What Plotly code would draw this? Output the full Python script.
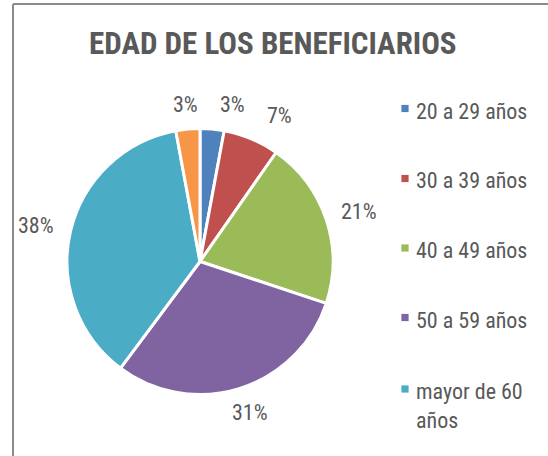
import math
import plotly.graph_objects as go

# ---- data ----
categories = ["20 a 29 años", "30 a 39 años", "40 a 49 años", "50 a 59 años", "mayor de 60 años", "otros"]
legend_labels = ["20 a 29 años", "30 a 39 años", "40 a 49 años", "50 a 59 años", "mayor de 60<br>años"]
values = [3, 7, 21, 31, 38, 3]
colors = ["#4F81BD", "#C0504D", "#9BBB59", "#8064A2", "#4BACC6", "#F79646"]
title_text = "EDAD DE LOS BENEFICIARIOS"

W, H = 548, 456
FONT = "Liberation Sans Narrow, Arial Narrow, Roboto Condensed, sans-serif"
GRAY = "#595959"


def px_x(x):
    return x / W


def px_y(y):
    return 1 - y / H


cx, cy, r = 200, 261.5, 133

fig = go.Figure(go.Pie(
    labels=categories,
    values=values,
    textinfo="none",
    sort=False,
    direction="clockwise",
    rotation=0,
    marker=dict(colors=colors, line=dict(color="white", width=3)),
    domain=dict(x=[px_x(cx - r), px_x(cx + r)], y=[px_y(cy + r), px_y(cy - r)]),
    showlegend=False,
    hoverinfo="label+value",
))

# ---- data labels placed outside the slice ends (positions derived from the values) ----
total = sum(values)
texts = [f"{v}%" for v in values]
gap, h = 16, 18
boxes = []
cum = 0
for v, t in zip(values, texts):
    mid = (cum + v / 2) / total * 2 * math.pi
    cum += v
    ux, uy = math.sin(mid), -math.cos(mid)
    w = 11 * (len(t) - 1) + 16
    bx = cx + (r + gap) * ux + w / 2 * ux
    by = cy + (r + gap) * uy + h / 2 * uy
    boxes.append([bx, by, w])

# resolve overlaps: the clockwise-later label is pushed away (starting with last->first pair)
min_gap = 20
n = len(boxes)
order = [(n - 1, 0)] + [(i, i + 1) for i in range(n - 1)]
for ia, ib in order:
    a, b = boxes[ia], boxes[ib]
    if abs(a[1] - b[1]) < h:
        need = (a[2] + b[2]) / 2 + min_gap
        dx = b[0] - a[0]
        if abs(dx) < need:
            sgn = 1 if dx >= 0 else -1
            b[0] = a[0] + sgn * need

shapes = [
    dict(type="line", xref="paper", yref="paper", x0=px_x(13), y0=px_y(4), x1=px_x(W + 2), y1=px_y(4),
         line=dict(color="#8a8a8a", width=2)),
    dict(type="line", xref="paper", yref="paper", x0=px_x(13), y0=px_y(4), x1=px_x(13), y1=px_y(H + 2),
         line=dict(color="#8a8a8a", width=2)),
]
annotations = [
    dict(text=f"<b>{title_text}</b>", x=px_x(273), y=px_y(44), xref="paper", yref="paper",
         showarrow=False, xanchor="center", yanchor="middle",
         font=dict(family=FONT, size=31, color=GRAY)),
]

for (bx, by, w), t in zip(boxes, texts):
    annotations.append(dict(text=t, x=px_x(bx), y=px_y(by), xref="paper", yref="paper",
                            showarrow=False, xanchor="center", yanchor="middle",
                            font=dict(family=FONT, size=22, color=GRAY)))

leg_y = [108.5, 178.5, 248, 317.5, 389]
for i, lab in enumerate(legend_labels):
    y = leg_y[i]
    s = 3.6
    shapes.append(dict(type="rect", xref="paper", yref="paper",
                       x0=px_x(405 - s), x1=px_x(405 + s), y0=px_y(y + s), y1=px_y(y - s),
                       fillcolor=colors[i], line=dict(width=0)))
    annotations.append(dict(text=lab, x=px_x(414), y=px_y(y - 12), xref="paper", yref="paper",
                            showarrow=False, xanchor="left", yanchor="top", align="left",
                            font=dict(family=FONT, size=22, color=GRAY)))

fig.update_layout(
    width=W, height=H,
    margin=dict(l=0, r=0, t=0, b=0),
    paper_bgcolor="white",
    plot_bgcolor="white",
    shapes=shapes,
    annotations=annotations,
)

fig.write_html("out.html", config={"displayModeBar": False},
               post_script="document.body.style.margin='0px';")
